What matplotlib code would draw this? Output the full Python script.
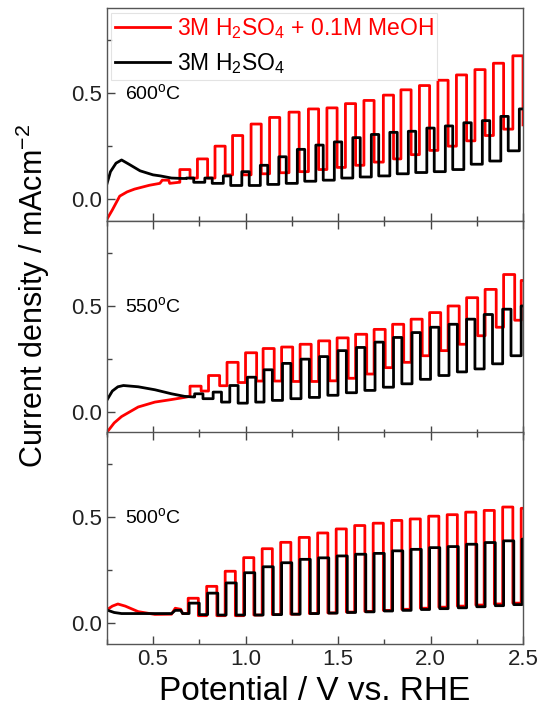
import matplotlib
matplotlib.use('Agg')
import matplotlib.pyplot as plt
from matplotlib.ticker import MultipleLocator

plt.rcParams['font.family'] = ['Liberation Sans', 'DejaVu Sans']
plt.rcParams['mathtext.default'] = 'regular'

temps = ['600', '550', '500']

# ---- 600 C ----
r600_pre_v = [0.25, 0.28, 0.32, 0.36, 0.40, 0.48, 0.537, 0.55, 0.585, 0.59, 0.64]
r600_pre_i = [-0.095, -0.05, 0.015, 0.035, 0.048, 0.066, 0.075, 0.09, 0.09, 0.075, 0.08]
r600_edges = [0.645, 0.74, 0.835, 0.93, 1.03, 1.13, 1.235, 1.34, 1.44, 1.54,
              1.64, 1.745, 1.84, 1.94, 2.04, 2.14, 2.24, 2.34, 2.445]
r600_on = [0.14, 0.19, 0.25, 0.30, 0.354, 0.385, 0.41, 0.425, 0.43, 0.45,
           0.465, 0.49, 0.515, 0.535, 0.56, 0.585, 0.61, 0.64, 0.675]
r600_off = [0.10, 0.10, 0.115, 0.115, 0.12, 0.125, 0.13, 0.14, 0.15, 0.16,
            0.175, 0.19, 0.21, 0.23, 0.25, 0.275, 0.30, 0.33, 0.35]

k600_pre_v = [0.25, 0.27, 0.30, 0.33, 0.37, 0.43, 0.50, 0.54, 0.60, 0.66]
k600_pre_i = [0.07, 0.13, 0.17, 0.185, 0.165, 0.134, 0.115, 0.11, 0.10, 0.098]
k600_edges = [0.68, 0.78, 0.88, 0.98, 1.08, 1.18, 1.28, 1.38, 1.48, 1.58,
              1.68, 1.78, 1.88, 1.98, 2.08, 2.18, 2.28, 2.38, 2.48]
k600_on = [0.10, 0.10, 0.11, 0.13, 0.16, 0.20, 0.235, 0.255, 0.27, 0.29,
           0.305, 0.315, 0.32, 0.335, 0.345, 0.36, 0.37, 0.39, 0.425]
k600_off = [0.08, 0.075, 0.065, 0.065, 0.07, 0.075, 0.085, 0.09, 0.10, 0.105,
            0.11, 0.12, 0.126, 0.13, 0.14, 0.165, 0.18, 0.228, 0.25]

# ---- 550 C ----
r550_pre_v = [0.25, 0.29, 0.33, 0.42, 0.51, 0.60, 0.67, 0.70]
r550_pre_i = [-0.095, -0.05, -0.02, 0.025, 0.048, 0.06, 0.07, 0.075]
r550_edges = [0.70, 0.80, 0.90, 1.00, 1.095, 1.195, 1.295, 1.395, 1.495, 1.595,
              1.695, 1.795, 1.895, 1.995, 2.095, 2.195, 2.295, 2.395, 2.49]
r550_on = [0.123, 0.173, 0.235, 0.28, 0.30, 0.307, 0.32, 0.336, 0.35, 0.367,
           0.39, 0.414, 0.438, 0.469, 0.50, 0.539, 0.578, 0.648, 0.62]
r550_off = [0.10, 0.125, 0.14, 0.147, 0.147, 0.145, 0.145, 0.148, 0.16, 0.18,
            0.21, 0.235, 0.266, 0.29, 0.32, 0.36, 0.40, 0.433, 0.45]

k550_pre_v = [0.25, 0.28, 0.31, 0.34, 0.42, 0.51, 0.60, 0.67, 0.72]
k550_pre_i = [0.056, 0.10, 0.12, 0.126, 0.12, 0.106, 0.087, 0.075, 0.072]
k550_edges = [0.725, 0.825, 0.915, 1.01, 1.10, 1.20, 1.30, 1.40, 1.50, 1.60,
              1.70, 1.80, 1.90, 2.00, 2.10, 2.195, 2.29, 2.39, 2.49]
k550_on = [0.087, 0.095, 0.126, 0.165, 0.20, 0.23, 0.25, 0.262, 0.29, 0.305,
           0.33, 0.352, 0.375, 0.40, 0.414, 0.438, 0.46, 0.485, 0.50]
k550_off = [0.064, 0.048, 0.043, 0.048, 0.056, 0.064, 0.07, 0.08, 0.092, 0.103,
            0.118, 0.134, 0.155, 0.173, 0.19, 0.204, 0.228, 0.266, 0.28]

# ---- 500 C ----
r500_pre_v = [0.25, 0.28, 0.31, 0.35, 0.42, 0.51, 0.60, 0.62, 0.65, 0.66, 0.69]
r500_pre_i = [0.062, 0.08, 0.09, 0.08, 0.054, 0.041, 0.042, 0.07, 0.065, 0.045, 0.045]
r500_edges = [0.69, 0.79, 0.89, 0.99, 1.09, 1.19, 1.29, 1.39, 1.49, 1.59,
              1.69, 1.79, 1.89, 1.99, 2.09, 2.19, 2.29, 2.39, 2.49]
r500_on = [0.117, 0.173, 0.244, 0.308, 0.35, 0.38, 0.403, 0.424, 0.443, 0.459,
           0.47, 0.483, 0.49, 0.503, 0.51, 0.522, 0.53, 0.546, 0.54]
r500_off = [0.035, 0.035, 0.035, 0.038, 0.04, 0.042, 0.045, 0.048, 0.052, 0.055,
            0.06, 0.065, 0.07, 0.075, 0.08, 0.085, 0.09, 0.094, 0.10]

k500_pre_v = [0.25, 0.29, 0.33, 0.60, 0.62, 0.65, 0.66, 0.695]
k500_pre_i = [0.062, 0.05, 0.045, 0.045, 0.06, 0.06, 0.045, 0.045]
k500_edges = [0.695, 0.795, 0.895, 0.995, 1.095, 1.195, 1.295, 1.395, 1.495, 1.595,
              1.695, 1.795, 1.895, 1.995, 2.095, 2.195, 2.295, 2.395, 2.495]
k500_on = [0.094, 0.141, 0.189, 0.237, 0.265, 0.284, 0.30, 0.307, 0.316, 0.324,
           0.328, 0.34, 0.347, 0.355, 0.36, 0.371, 0.379, 0.387, 0.395]
k500_off = [0.04, 0.038, 0.038, 0.038, 0.04, 0.042, 0.045, 0.047, 0.05, 0.053,
            0.057, 0.06, 0.064, 0.068, 0.072, 0.077, 0.082, 0.087, 0.09]


def chop_curve(pre_v, pre_i, edges, i_on, i_off, t_on):
    # dark scan first, then light on/off steps
    v = list(pre_v)
    i = list(pre_i)
    prev = pre_i[-1]
    for e, a, b in zip(edges, i_on, i_off):
        v += [e, e, e + t_on, e + t_on]
        i += [prev, a, a, b]
        prev = b
    return v, i


red_sets = [
    (r600_pre_v, r600_pre_i, r600_edges, r600_on, r600_off, 0.055),
    (r550_pre_v, r550_pre_i, r550_edges, r550_on, r550_off, 0.06),
    (r500_pre_v, r500_pre_i, r500_edges, r500_on, r500_off, 0.055),
]
black_sets = [
    (k600_pre_v, k600_pre_i, k600_edges, k600_on, k600_off, 0.04),
    (k550_pre_v, k550_pre_i, k550_edges, k550_on, k550_off, 0.045),
    (k500_pre_v, k500_pre_i, k500_edges, k500_on, k500_off, 0.055),
]

fig = plt.figure(figsize=(5.42, 7.22), dpi=100)
tops = [0.989, 0.694, 0.402]
h = 0.2945
axes = []
for n in range(3):
    ax = fig.add_axes([0.197, tops[n] - h, 0.768, h])
    axes.append(ax)

for n, ax in enumerate(axes):
    rv, ri = chop_curve(*red_sets[n])
    kv, ki = chop_curve(*black_sets[n])
    ax.plot(rv, ri, color='#ff0000', lw=2.0, label='3M H$_2$SO$_4$ + 0.1M MeOH')
    ax.plot(kv, ki, color='black', lw=2.0, label='3M H$_2$SO$_4$')
    ax.set_xlim(0.25, 2.5)
    ax.set_ylim(-0.1, 0.9)
    ax.set_yticks([0.0, 0.5])
    ax.yaxis.set_minor_locator(MultipleLocator(0.25))
    ax.xaxis.set_major_locator(MultipleLocator(0.5))
    ax.xaxis.set_minor_locator(MultipleLocator(0.25))
    ax.tick_params(which='both', direction='in', colors='#444444', labelcolor='#222222',
                   labelsize=16, right=False, top=(n > 0))
    ax.tick_params(which='major', length=6, width=1)
    ax.tick_params(which='minor', length=3.5, width=1)
    for s in ax.spines.values():
        s.set_color('#555555')
        s.set_linewidth(1.0)
    ax.text(0.35, 0.5, temps[n] + '$^{o}$C', fontsize=14, va='center', ha='left')
    if n < 2:
        ax.tick_params(labelbottom=False)

axes[2].set_xlabel('Potential / V vs. RHE', fontsize=24, labelpad=4)
fig.text(0.06, 0.59, 'Current density / mAcm$^{-2}$', fontsize=22, rotation=90,
         ha='center', va='center')

leg = axes[0].legend(loc='upper left', fontsize=16.5, handlelength=2.4, frameon=True,
                     fancybox=False, edgecolor='#dddddd', labelcolor='linecolor',
                     borderaxespad=0.2, borderpad=0.15, labelspacing=0.45, handletextpad=0.3)
leg.get_frame().set_linewidth(0.8)

fig.savefig('out.png', dpi=100)
